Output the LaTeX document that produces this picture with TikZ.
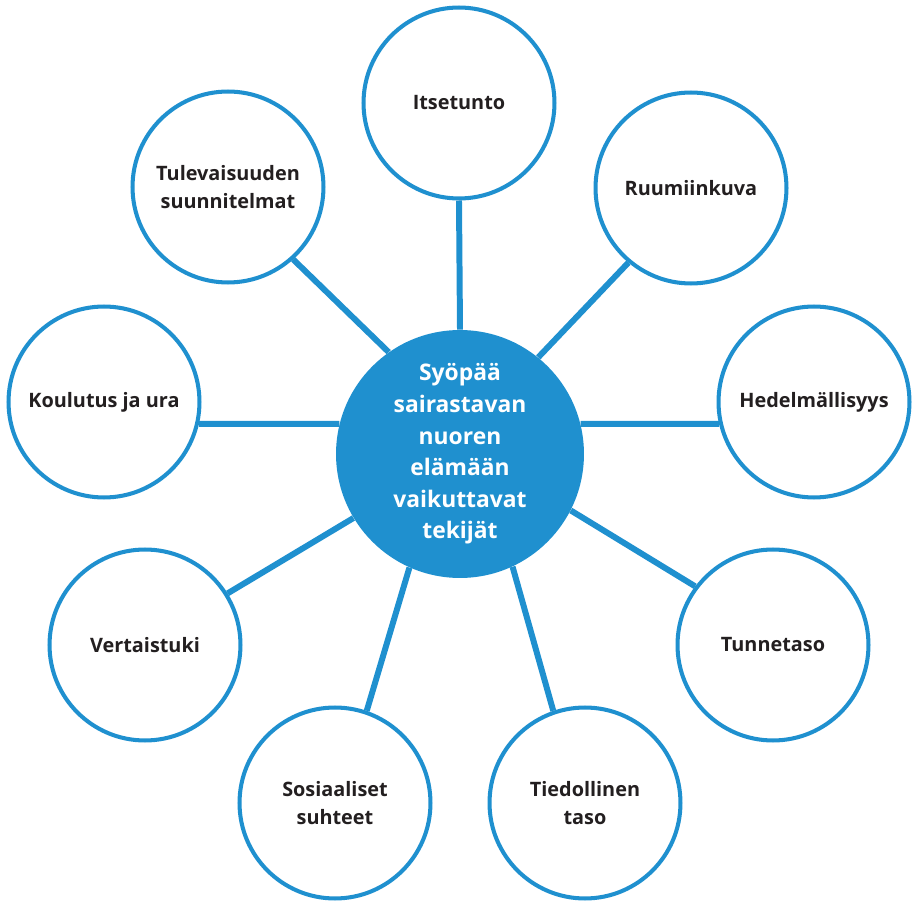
\documentclass[tikz,border=0pt]{standalone}
\usepackage{fontspec}
\setmainfont{Open Sans}
\usetikzlibrary{backgrounds}
\definecolor{hub}{HTML}{1F90CF}
\definecolor{ink}{HTML}{231F20}
\tikzset{
  factor/.style={circle, draw=hub, line width=2.3pt, fill=white,
    minimum size=3.82cm, inner sep=0pt, align=center, text=ink,
    font=\bfseries\fontsize{11.3}{16.2}\selectfont},
  core/.style={circle, fill=hub, minimum size=4.96cm, inner sep=0pt,
    align=center, text=white, font=\bfseries\fontsize{13}{18}\selectfont},
  spoke/.style={draw=hub, line width=3.4pt}
}
\begin{document}
\begin{tikzpicture}[x=0.02cm,y=-0.02cm]
  \useasboundingbox (0,0) rectangle (914,902);

  \node[core] (c) at (460,454) {Syöpää\\sairastavan\\nuoren\\elämään\\vaikuttavat\\tekijät};

  \node[factor] (its) at (459,103) {Itsetunto};
  \node[factor] (ruu) at (691,188) {Ruumiinkuva};
  \node[factor] (hed) at (814,402) {Hedelmällisyys};
  \node[factor] (tun) at (773,645) {Tunnetaso};
  \node[factor] (tie) at (585,803) {Tiedollinen\\taso};
  \node[factor] (sos) at (335,803) {Sosiaaliset\\suhteet};
  \node[factor] (ver) at (145,645) {Vertaistuki};
  \node[factor] (kou) at (104,402) {Koulutus ja ura};
  \node[factor] (tul) at (228,187) {Tulevaisuuden\\suunnitelmat};

  \begin{scope}[on background layer]
    \draw[spoke] (c.90)    -- (its.-90);
    \draw[spoke] (c.51)    -- (ruu.-130.6);
    \draw[spoke] (c.14)    -- (hed.-167.2);
    \draw[spoke] (c.-27.8) -- (tun.143.5);
    \draw[spoke] (c.-65.3) -- (tie.109);
    \draw[spoke] (c.-114.7) -- (sos.71);
    \draw[spoke] (c.-149.8) -- (ver.32.9);
    \draw[spoke] (c.166.5) -- (kou.-13.4);
    \draw[spoke] (c.125.9) -- (tul.-48.4);
  \end{scope}
\end{tikzpicture}
\end{document}
